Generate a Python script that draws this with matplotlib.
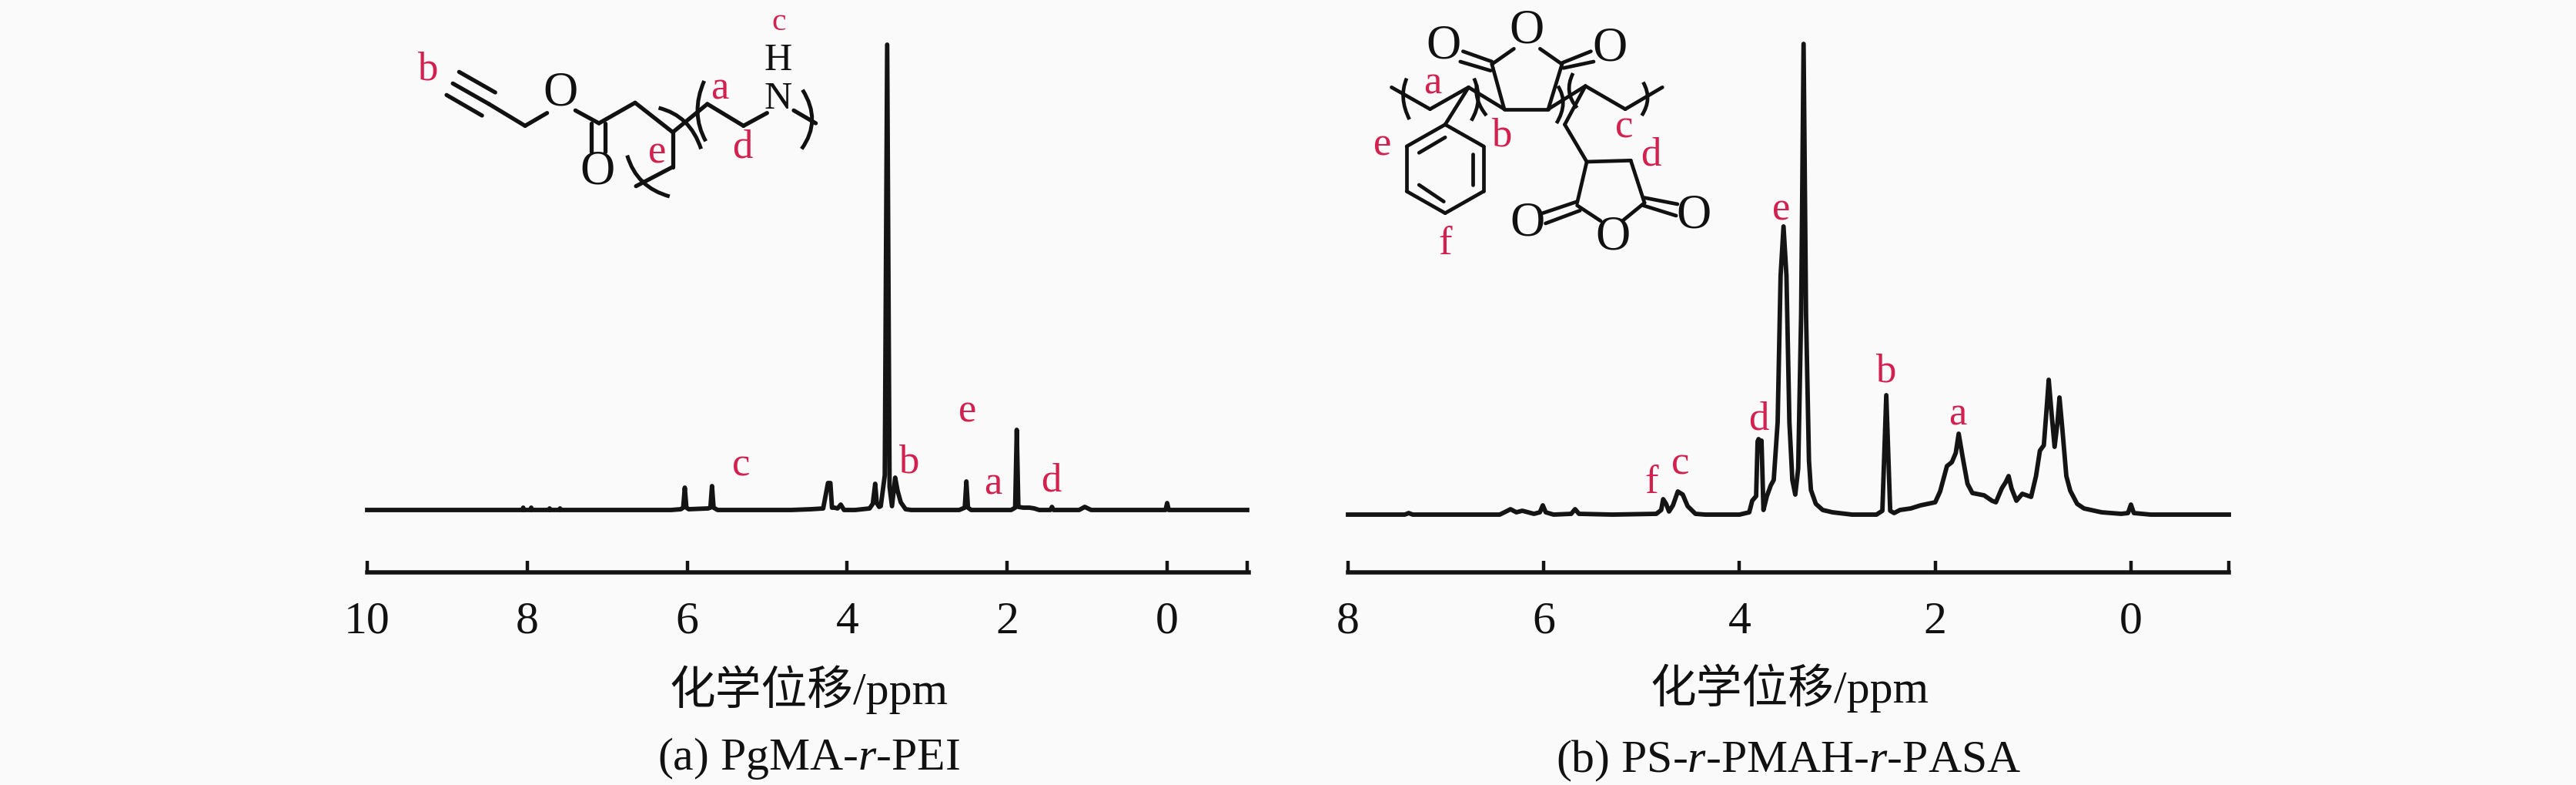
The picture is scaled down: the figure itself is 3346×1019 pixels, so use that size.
import matplotlib
matplotlib.use("Agg")
import matplotlib.pyplot as plt
from matplotlib.path import Path
from matplotlib.patches import PathPatch

W, H = 3346, 1019
BG = "#fafafa"
RED = "#d2214f"
FONT = ["Liberation Serif", "Noto Sans CJK SC"]

plt.rcParams["font.family"] = FONT
plt.rcParams["mathtext.fontset"] = "custom"
plt.rcParams["mathtext.rm"] = "Liberation Serif"
plt.rcParams["mathtext.it"] = "Liberation Serif:italic"

# spectrum a: shift in ppm, height above baseline (image px)
ppm_a = [10.0, 8.06, 8.05, 8.04, 7.96, 7.95, 7.94, 7.73, 7.72, 7.71, 7.6, 7.59, 7.58, 6.2, 6.08, 6.05, 6.03, 6.01,
         5.98, 5.74, 5.71, 5.69, 5.67, 5.62, 4.7, 4.45, 4.3, 4.24, 4.21, 4.19, 4.16, 4.12, 4.08, 4.04, 3.9, 3.72,
         3.68, 3.65, 3.63, 3.6, 3.58, 3.53, 3.5, 3.47, 3.44, 3.4, 3.37, 3.33, 3.27, 3.2, 2.6, 2.53, 2.51, 2.49,
         2.45, 1.95, 1.9, 1.88, 1.86, 1.8, 1.72, 1.66, 1.6, 1.46, 1.44, 1.42, 1.1, 1.03, 0.95, 0.02, 0.0, -0.02,
         -1.0]
int_a = [0, 0, 3, 0, 0, 3, 0, 0, 2, 0, 0, 2, 0, 0, 1, 3, 29, 3,
         1, 2, 3, 31, 3, 0, 0, 1, 2, 35, 35, 3, 3, 2, 7, 0, 0, 2,
         8, 34, 9, 4, 5, 45, 604, 30, 5, 42, 25, 10, 1, 0, 0, 3, 37, 3,
         0, 0, 3, 104, 4, 3, 3, 2, 0, 0, 4, 0, 0, 4, 0, 0, 9, 0,
         0]

# spectrum b
ppm_b = [8.0, 7.42, 7.38, 7.34, 7.0, 6.45, 6.37, 6.34, 6.28, 6.22, 6.1, 6.04, 6.01, 5.98, 5.9, 5.72, 5.68, 5.64, 5.3,
         4.85, 4.8, 4.78, 4.75, 4.72, 4.68, 4.63, 4.58, 4.53, 4.45, 4.35, 4.0, 3.9, 3.87, 3.83, 3.815, 3.805,
         3.79, 3.775, 3.755, 3.72, 3.68, 3.65, 3.61, 3.58, 3.55, 3.52, 3.49, 3.46, 3.43, 3.40, 3.37, 3.345, 3.32,
         3.29, 3.27, 3.22, 3.15, 3.05, 2.85, 2.6, 2.54, 2.5, 2.46, 2.42, 2.36, 2.25, 2.15, 2.0, 1.95, 1.88, 1.83,
         1.79, 1.76, 1.72, 1.67, 1.62, 1.5, 1.42, 1.38, 1.32, 1.28, 1.25, 1.22, 1.17, 1.11, 1.02, 0.97, 0.93,
         0.89, 0.86, 0.84, 0.81, 0.78, 0.75, 0.73, 0.70, 0.66, 0.62, 0.55, 0.48, 0.3, 0.1, 0.03, 0.0, -0.03, -0.2, -1.0]
int_b = [0, 0, 2, 0, 0, 0, 5, 7, 3, 5, 1, 3, 12, 3, 0, 1, 7, 1, 0,
         1, 6, 20, 14, 4, 12, 30, 26, 11, 1, 0, 0, 3, 18, 24, 95, 98,
         85, 96, 6, 24, 38, 45, 120, 310, 374, 310, 120, 45, 26, 60, 260, 611, 260,
         70, 32, 14, 6, 3, 0, 0, 5, 155, 5, 2, 6, 8, 12, 16, 30, 63, 68,
         80, 105, 75, 40, 28, 25, 18, 16, 34, 42, 50, 34, 18, 27, 23, 50, 83,
         90, 140, 175, 130, 88, 120, 152, 110, 50, 31, 14, 8, 3, 1, 2, 13, 2, 0, 0]

ticks_a = [10, 8, 6, 4, 2, 0, -1]
labels_a = ["10", "8", "6", "4", "2", "0", ""]
ticks_b = [8, 6, 4, 2, 0, -1]
labels_b = ["8", "6", "4", "2", "0", ""]

xlabel = "化学位移/ppm"
caption_a = r"(a) PgMA-$\mathit{r}$-PEI"
caption_b = r"(b) PS-$\mathit{r}$-PMAH-$\mathit{r}$-PASA"


def spectrum_axes(fig, x0, x1, base, xlim, ppm, vals, ticks, labels):
    # axes bottom sits on the scale bar at y=743, heights count in px from the baseline
    ax = fig.add_axes([x0 / W, 1 - 743 / H, (x1 - x0) / W, 743 / H])
    ax.set_facecolor("none")
    ax.set_xlim(*xlim)
    ax.set_ylim(base - 743, base)
    ax.plot(ppm, vals, color="#141414", lw=4.2, solid_joinstyle="round", clip_on=False)
    for s in ["top", "left", "right"]:
        ax.spines[s].set_visible(False)
    ax.spines["bottom"].set_linewidth(4)
    ax.spines["bottom"].set_color("#141414")
    ax.set_yticks([])
    ax.set_xticks(ticks)
    ax.set_xticklabels(labels, fontsize=43, color="#111111")
    ax.tick_params(axis="x", direction="in", length=11, width=3.2, color="#141414", pad=27)
    return ax


def bonds(ax, segs, ox, sx, sy, lw):
    for x1, y1, x2, y2 in segs:
        ax.plot([ox + x1 / sx, ox + x2 / sx], [y1 / sy, y2 / sy], color="#111111", lw=lw,
                solid_capstyle="round")


def arcs(ax, curves, ox, sx, sy, lw):
    for a, b, c in curves:
        verts = [(ox + p[0] / sx, p[1] / sy) for p in (a, b, c)]
        ax.add_patch(PathPatch(Path(verts, [Path.MOVETO, Path.CURVE3, Path.CURVE3]),
                               fill=False, ec="#111111", lw=lw))


def atoms(ax, items, ox, sx, sy, size, color):
    for s, x, y in items:
        ax.text(ox + x / sx, y / sy, s, fontsize=size, color=color, ha="center", va="center")


# structure a, coordinates
mol_a_bonds = [(285, 280, 400, 360), (265, 325, 380, 405), (245, 370, 358, 450), (380, 405, 495, 490),
               (495, 490, 565, 440), (655, 430, 730, 480), (705, 480, 705, 590), (750, 480, 750, 590),
               (730, 480, 845, 400), (845, 400, 965, 515), (965, 515, 1075, 405), (1075, 405, 1190, 490),
               (1190, 490, 1265, 440), (1350, 430, 1420, 480), (965, 515, 965, 650), (965, 650, 848, 725)]
mol_a_arcs = [((1065, 315), (1020, 440), (1070, 550)), ((920, 420), (1020, 450), (1055, 580)),
              ((1378, 350), (1440, 470), (1375, 580)), ((820, 605), (850, 730), (955, 765))]
mol_a_atoms = [("O", 607, 365), ("O", 725, 670)]
mol_a_nh = [("N", 1300, 385), ("H", 1300, 235)]
mol_a_tags = [("b", 185, 270), ("a", 1115, 345), ("d", 1187, 575), ("e", 915, 595)]
mol_a_c = [("c", 1303, 85)]

# structure b
mol_b_bonds = [(245, 340, 385, 425), (385, 425, 525, 340), (525, 340, 440, 485), (440, 485, 580, 570),
               (580, 570, 580, 745), (580, 745, 440, 830), (440, 830, 300, 745), (300, 745, 300, 570),
               (300, 570, 440, 485), (345, 595, 440, 535), (540, 600, 540, 720), (345, 720, 435, 785),
               (525, 340, 655, 425), (655, 425, 815, 425), (655, 425, 610, 250), (815, 425, 865, 250),
               (610, 250, 690, 190), (785, 190, 865, 250), (610, 240, 505, 200), (605, 275, 495, 240),
               (865, 245, 970, 200), (870, 265, 980, 240), (815, 425, 950, 335), (950, 335, 1095, 425),
               (1095, 425, 1230, 340), (950, 335, 875, 485), (875, 485, 955, 630), (955, 630, 1115, 625),
               (955, 630, 920, 790), (1115, 625, 1165, 790), (920, 800, 1005, 860), (1165, 790, 1085, 860),
               (920, 785, 795, 830), (930, 820, 805, 870), (1165, 770, 1285, 795), (1160, 800, 1280, 840)]
mol_b_arcs = [((300, 305), (270, 380), (310, 465)), ((545, 305), (580, 390), (535, 470)),
              ((555, 330), (545, 390), (590, 450)), ((905, 285), (870, 360), (920, 420)),
              ((850, 335), (890, 400), (845, 480)), ((1160, 320), (1195, 385), (1155, 450))]
mol_b_atoms = [("O", 737, 120), ("O", 435, 180), ("O", 1040, 190), ("O", 740, 870), ("O", 1050, 925),
               ("O", 1345, 840)]
mol_b_tags = [("a", 393, 325), ("b", 645, 530), ("c", 1090, 495), ("d", 1188, 605), ("e", 212, 565),
              ("f", 440, 950)]

fig = plt.figure(figsize=(W / 100, H / 100), dpi=100, facecolor=BG)

ax_a = spectrum_axes(fig, 477, 1622, 662, (10.0, -1.02), ppm_a, int_a, ticks_a, labels_a)
ax_b = spectrum_axes(fig, 1751, 2895, 668, (8.0, -1.0), ppm_b, int_b, ticks_b, labels_b)

# overlay in image px for the structures and the peak tags
ov = fig.add_axes([0, 0, 1, 1])
ov.set_xlim(0, W)
ov.set_ylim(H, 0)
ov.axis("off")
ov.patch.set_alpha(0)

bonds(ov, mol_a_bonds, 480, 2.45, 3, 3.8)
arcs(ov, mol_a_arcs, 480, 2.45, 3, 3.6)
atoms(ov, mol_a_atoms, 480, 2.45, 3, 45, "#111111")
atoms(ov, mol_a_nh, 480, 2.45, 3, 36, "#111111")
atoms(ov, mol_a_tags, 480, 2.45, 3, 38, RED)
atoms(ov, mol_a_c, 480, 2.45, 3, 30, RED)

bonds(ov, mol_b_bonds, 1720, 2.8, 3, 3.4)
arcs(ov, mol_b_arcs, 1720, 2.8, 3, 3.4)
atoms(ov, mol_b_atoms, 1720, 2.8, 3, 45, "#111111")
atoms(ov, mol_b_tags, 1720, 2.8, 3, 38, RED)

# peak tags over the spectra, px positions
tags_a = [("c", 963, 605), ("b", 1180, 600), ("e", 1257, 535), ("a", 1290, 628), ("d", 1365, 625)]
tags_b = [("f", 2145, 627), ("c", 2183, 603), ("d", 2284, 545), ("e", 2314, 272), ("b", 2449, 482),
          ("a", 2543, 538)]
for s, x, y in tags_a + tags_b:
    ov.text(x, y, s, fontsize=38, color=RED, ha="center", va="center")

for x, y, s in [(1050, 895, xlabel), (1051, 985, caption_a), (2324, 893, xlabel), (2323, 988, caption_b)]:
    ov.text(x, y, s, fontsize=43, color="#111111", ha="center", va="center")

plt.savefig("out.png", dpi=100, facecolor=BG)
